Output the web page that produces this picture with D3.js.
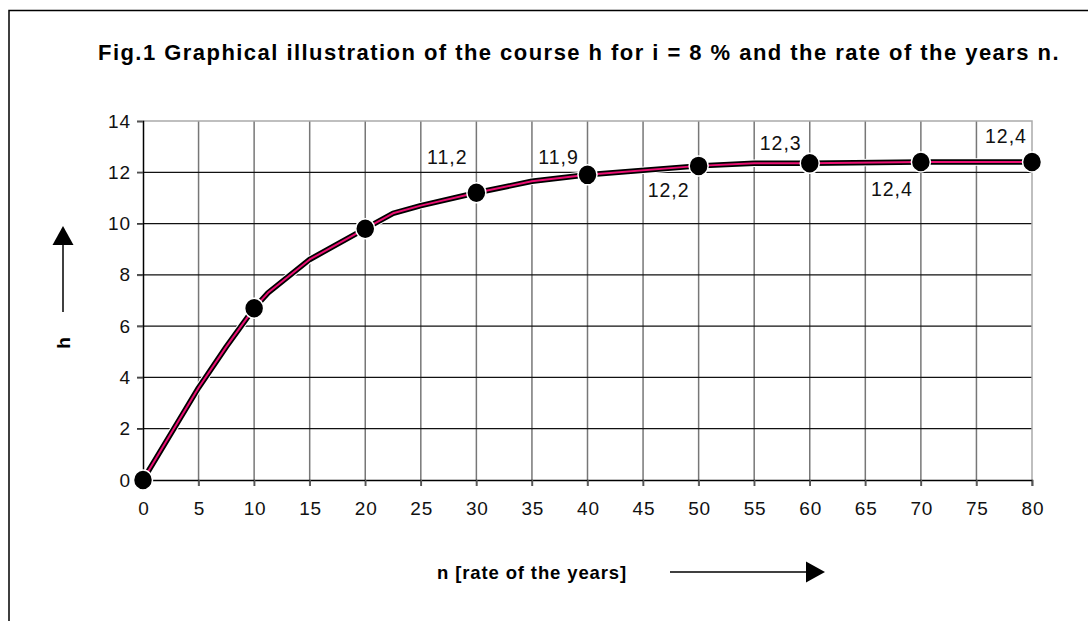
<!DOCTYPE html>
<html>
<head>
<meta charset="utf-8">
<script src="https://cdn.jsdelivr.net/npm/d3@7"></script>
<style>
  html, body { margin: 0; padding: 0; background: #fff; }
  svg { display: block; font-family: "Liberation Sans", Arial, Helvetica, sans-serif; }
</style>
</head>
<body>
<svg id="chart" width="1088" height="621"></svg>
<script>
// ---- data ----
const curveYears  = [0, 2.5, 5, 7.5, 10, 11.25, 15, 20, 22.5, 25, 30, 35, 40, 50, 55, 60, 70, 80];
const curveH      = [0, 1.8, 3.6, 5.2, 6.7, 7.3, 8.6, 9.8, 10.4, 10.7, 11.2, 11.65, 11.9, 12.25, 12.35, 12.35, 12.4, 12.4];
const markerYears = [0, 10, 20, 30, 40, 50, 60, 70, 80];
const markerH     = [0, 6.7, 9.8, 11.2, 11.9, 12.25, 12.35, 12.4, 12.4];
const labelYears  = [30, 40, 50, 60, 70, 80];
const labelTexts  = ["11,2", "11,9", "12,2", "12,3", "12,4", "12,4"];
const xTicks      = [0, 5, 10, 15, 20, 25, 30, 35, 40, 45, 50, 55, 60, 65, 70, 75, 80];
const yTicks      = [0, 2, 4, 6, 8, 10, 12, 14];
const titleText   = "Fig.1 Graphical illustration of the course h for i = 8 % and the rate of the years n.";
const xLabelText  = "n [rate of the years]";
const yLabelText  = "h";

// ---- layout (pixel offsets of the data labels from their marker) ----
const labelDx = [-29, -29, -30, -29, -29, -26];
const labelDy = [-29, -11, 31, -13, 34, -19];

const W = 1088, H = 621;
const plot = { left: 143, right: 1032, top: 121, bottom: 480 };
const svg = d3.select("#chart");

const x = d3.scaleLinear().domain([0, 80]).range([plot.left, plot.right]);
const y = d3.scaleLinear().domain([0, 14]).range([plot.bottom, plot.top]);

// fit text to a target width through letter-spacing
function fitWidth(sel, target) {
  const node = sel.node();
  const len = node.getComputedTextLength();
  const n = sel.text().length;
  sel.attr("letter-spacing", ((target - len) / n).toFixed(3));
}

// outer frame (only top and left visible)
svg.append("path")
  .attr("d", `M9,${H} L9,10.5 L${W},10.5`)
  .attr("fill", "none").attr("stroke", "#000").attr("stroke-width", 1.5);

// title
const title = svg.append("text")
  .attr("x", 98).attr("y", 60)
  .attr("font-size", 22).attr("font-weight", "bold").attr("fill", "#000")
  .text(titleText);
fitWidth(title, 962);

// gridlines vertical (gray)
svg.append("g").selectAll("line").data(xTicks.slice(1, -1)).join("line")
  .attr("x1", d => x(d)).attr("x2", d => x(d))
  .attr("y1", plot.top).attr("y2", plot.bottom + 6)
  .attr("stroke", "#777").attr("stroke-width", 1.5);
// horizontal gridlines (black)
svg.append("g").selectAll("line").data(yTicks.slice(1, -1)).join("line")
  .attr("x1", plot.left - 6).attr("x2", plot.right)
  .attr("y1", d => y(d)).attr("y2", d => y(d))
  .attr("stroke", "#111").attr("stroke-width", 1.2);

// plot border top/right (light gray)
svg.append("path")
  .attr("d", `M${plot.left},${plot.top} L${plot.right},${plot.top} L${plot.right},${plot.bottom + 6}`)
  .attr("fill", "none").attr("stroke", "#aaa").attr("stroke-width", 1.5);

// axes
const yAxis = d3.axisLeft(y).tickValues(yTicks).tickSize(6).tickPadding(7).tickFormat(d3.format("d"));
const gy = svg.append("g").attr("transform", `translate(${plot.left},0)`).call(yAxis);
const xAxis = d3.axisBottom(x).tickValues(xTicks).tickSize(6).tickPadding(16).tickFormat(d3.format("d"));
const gx = svg.append("g").attr("transform", `translate(0,${plot.bottom})`).call(xAxis);
[gx, gy].forEach(g => {
  g.attr("font-size", 19).attr("font-family", "'Liberation Sans', Arial, sans-serif");
  g.select(".domain").attr("stroke", "#000").attr("stroke-width", 1.5);
  g.selectAll(".tick line").attr("stroke", "#555").attr("stroke-width", 1.5);
  g.selectAll(".tick text").attr("fill", "#111").attr("letter-spacing", 0.8);
});
gy.selectAll(".tick text").attr("dx", 0.8);
gx.selectAll(".tick text").attr("dx", 0.4);

// curve
const pts = curveYears.map((n, i) => [n, curveH[i]]);
const line = d3.line().x(d => x(d[0])).y(d => y(d[1]));
svg.append("path").datum(pts).attr("d", line)
  .attr("fill", "none").attr("stroke", "#fff").attr("stroke-width", 7.5).attr("stroke-linejoin", "round");
svg.append("path").datum(pts).attr("d", line)
  .attr("fill", "none").attr("stroke", "#000").attr("stroke-width", 5.5).attr("stroke-linejoin", "round");
svg.append("path").datum(pts).attr("d", line)
  .attr("fill", "none").attr("stroke", "#ea0f72").attr("stroke-width", 2).attr("stroke-linejoin", "round");

// markers
const marks = markerYears.map((n, i) => [n, markerH[i]]);
svg.append("g").selectAll("ellipse").data(marks).join("ellipse")
  .attr("cx", d => x(d[0])).attr("cy", d => y(d[1]))
  .attr("rx", 9.5).attr("ry", 10)
  .attr("fill", "#000").attr("stroke", "#fff").attr("stroke-width", 1.5);

// data labels
const hAt = n => markerH[markerYears.indexOf(n)];
svg.append("g").selectAll("text").data(labelYears).join("text")
  .attr("x", (d, i) => x(d) + labelDx[i])
  .attr("y", (d, i) => y(hAt(d)) + labelDy[i])
  .attr("text-anchor", "middle")
  .attr("font-size", 19.5).attr("letter-spacing", 1).attr("fill", "#111")
  .text((d, i) => labelTexts[i]);

// axis titles and arrows
const xl = svg.append("text")
  .attr("x", 437).attr("y", 579)
  .attr("font-size", 18.5).attr("font-weight", "bold").attr("fill", "#000")
  .text(xLabelText);
fitWidth(xl, 190);
svg.append("line").attr("x1", 670).attr("x2", 808).attr("y1", 572).attr("y2", 572)
  .attr("stroke", "#000").attr("stroke-width", 1.5);
svg.append("path").attr("d", "M806,561.5 L825,572 L806,582.5 Z").attr("fill", "#000");

svg.append("text")
  .attr("transform", "translate(70,343) rotate(-90)")
  .attr("text-anchor", "middle")
  .attr("font-size", 19).attr("font-weight", "bold").attr("fill", "#000")
  .text(yLabelText);
svg.append("line").attr("x1", 63).attr("x2", 63).attr("y1", 312).attr("y2", 243)
  .attr("stroke", "#000").attr("stroke-width", 1.5);
svg.append("path").attr("d", "M52.5,245 L63,226 L73.5,245 Z").attr("fill", "#000");
</script>
</body>
</html>
